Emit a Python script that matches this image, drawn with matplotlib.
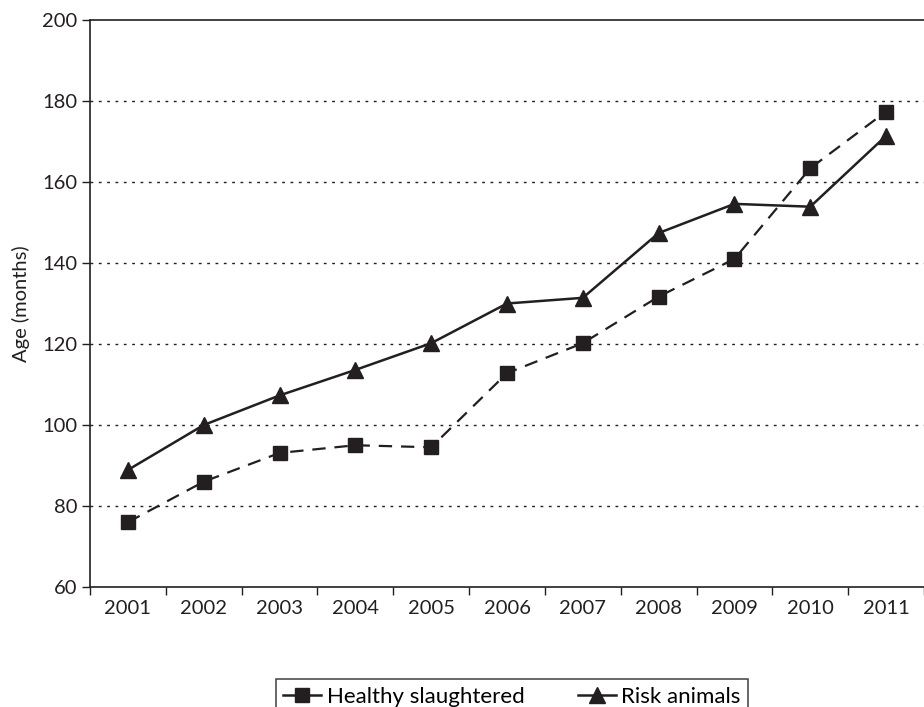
import matplotlib
matplotlib.use('Agg')
import matplotlib.pyplot as plt
from matplotlib.lines import Line2D
from matplotlib.ticker import FixedLocator

# data
years = ['2001', '2002', '2003', '2004', '2005', '2006',
         '2007', '2008', '2009', '2010', '2011']
healthy = [76.0, 86.0, 93.1, 95.0, 94.5, 112.8, 120.2, 131.7, 141.0, 163.4, 177.4]
risk = [88.9, 100.0, 107.3, 113.6, 120.2, 130.0, 131.4, 147.4, 154.6, 153.9, 171.4]

plt.rcParams['font.family'] = ['Lato', 'DejaVu Sans']
ink = '#231f20'

fig = plt.figure(figsize=(9.24, 7.07), dpi=100)
ax = fig.add_axes([90 / 924, 1 - 587 / 707, 1 - 90 / 924, (587 - 20) / 707])

x = list(range(1, len(years) + 1))
ax.plot(x, healthy, color=ink, lw=1.6, ls=(0, (6, 4)), marker='s', ms=9.5,
        zorder=3)
ax.plot(x, risk, color=ink, lw=1.8, ls='-', marker='^', ms=11, zorder=3)

ax.set_xlim(0.5, len(years) + 0.5)
ax.set_ylim(60, 200)
ax.set_xticks(x)
ax.set_xticklabels(years)
ax.xaxis.set_minor_locator(FixedLocator([i + 0.5 for i in range(0, len(years) + 1)]))
ax.tick_params(axis='x', which='major', length=0, pad=9, labelsize=14.5, colors=ink)
ax.tick_params(axis='x', which='minor', length=6, width=1, color=ink)
ax.set_yticks(range(60, 201, 20))
ax.tick_params(axis='y', length=6, width=1, labelsize=14.5, colors=ink, pad=3)

for yv in range(80, 200, 20):
    ax.axhline(yv, color=ink, lw=1, ls=(0, (2, 4)), zorder=1)

ax.spines['right'].set_visible(False)
for s in ['left', 'bottom', 'top']:
    ax.spines[s].set_color(ink)
    ax.spines[s].set_linewidth(1.2)

ax.set_ylabel('Age (months)', fontsize=14.5, color=ink, labelpad=9)

handles = [
    Line2D([], [], color=ink, lw=1.8, marker='s', ms=9.5),
    Line2D([], [], color=ink, lw=1.8, marker='^', ms=11),
]
lg = fig.legend(handles, ['Healthy slaughtered', 'Risk animals'], loc='upper center',
                bbox_to_anchor=(512 / 924, 1 - 668 / 707), ncol=2, fontsize=16,
                frameon=True, fancybox=False, edgecolor=ink, handlelength=1.7,
                handletextpad=0.25, columnspacing=2.4, borderpad=0.35)
lg.get_frame().set_linewidth(1.2)

fig.savefig('out.png', dpi=100)
